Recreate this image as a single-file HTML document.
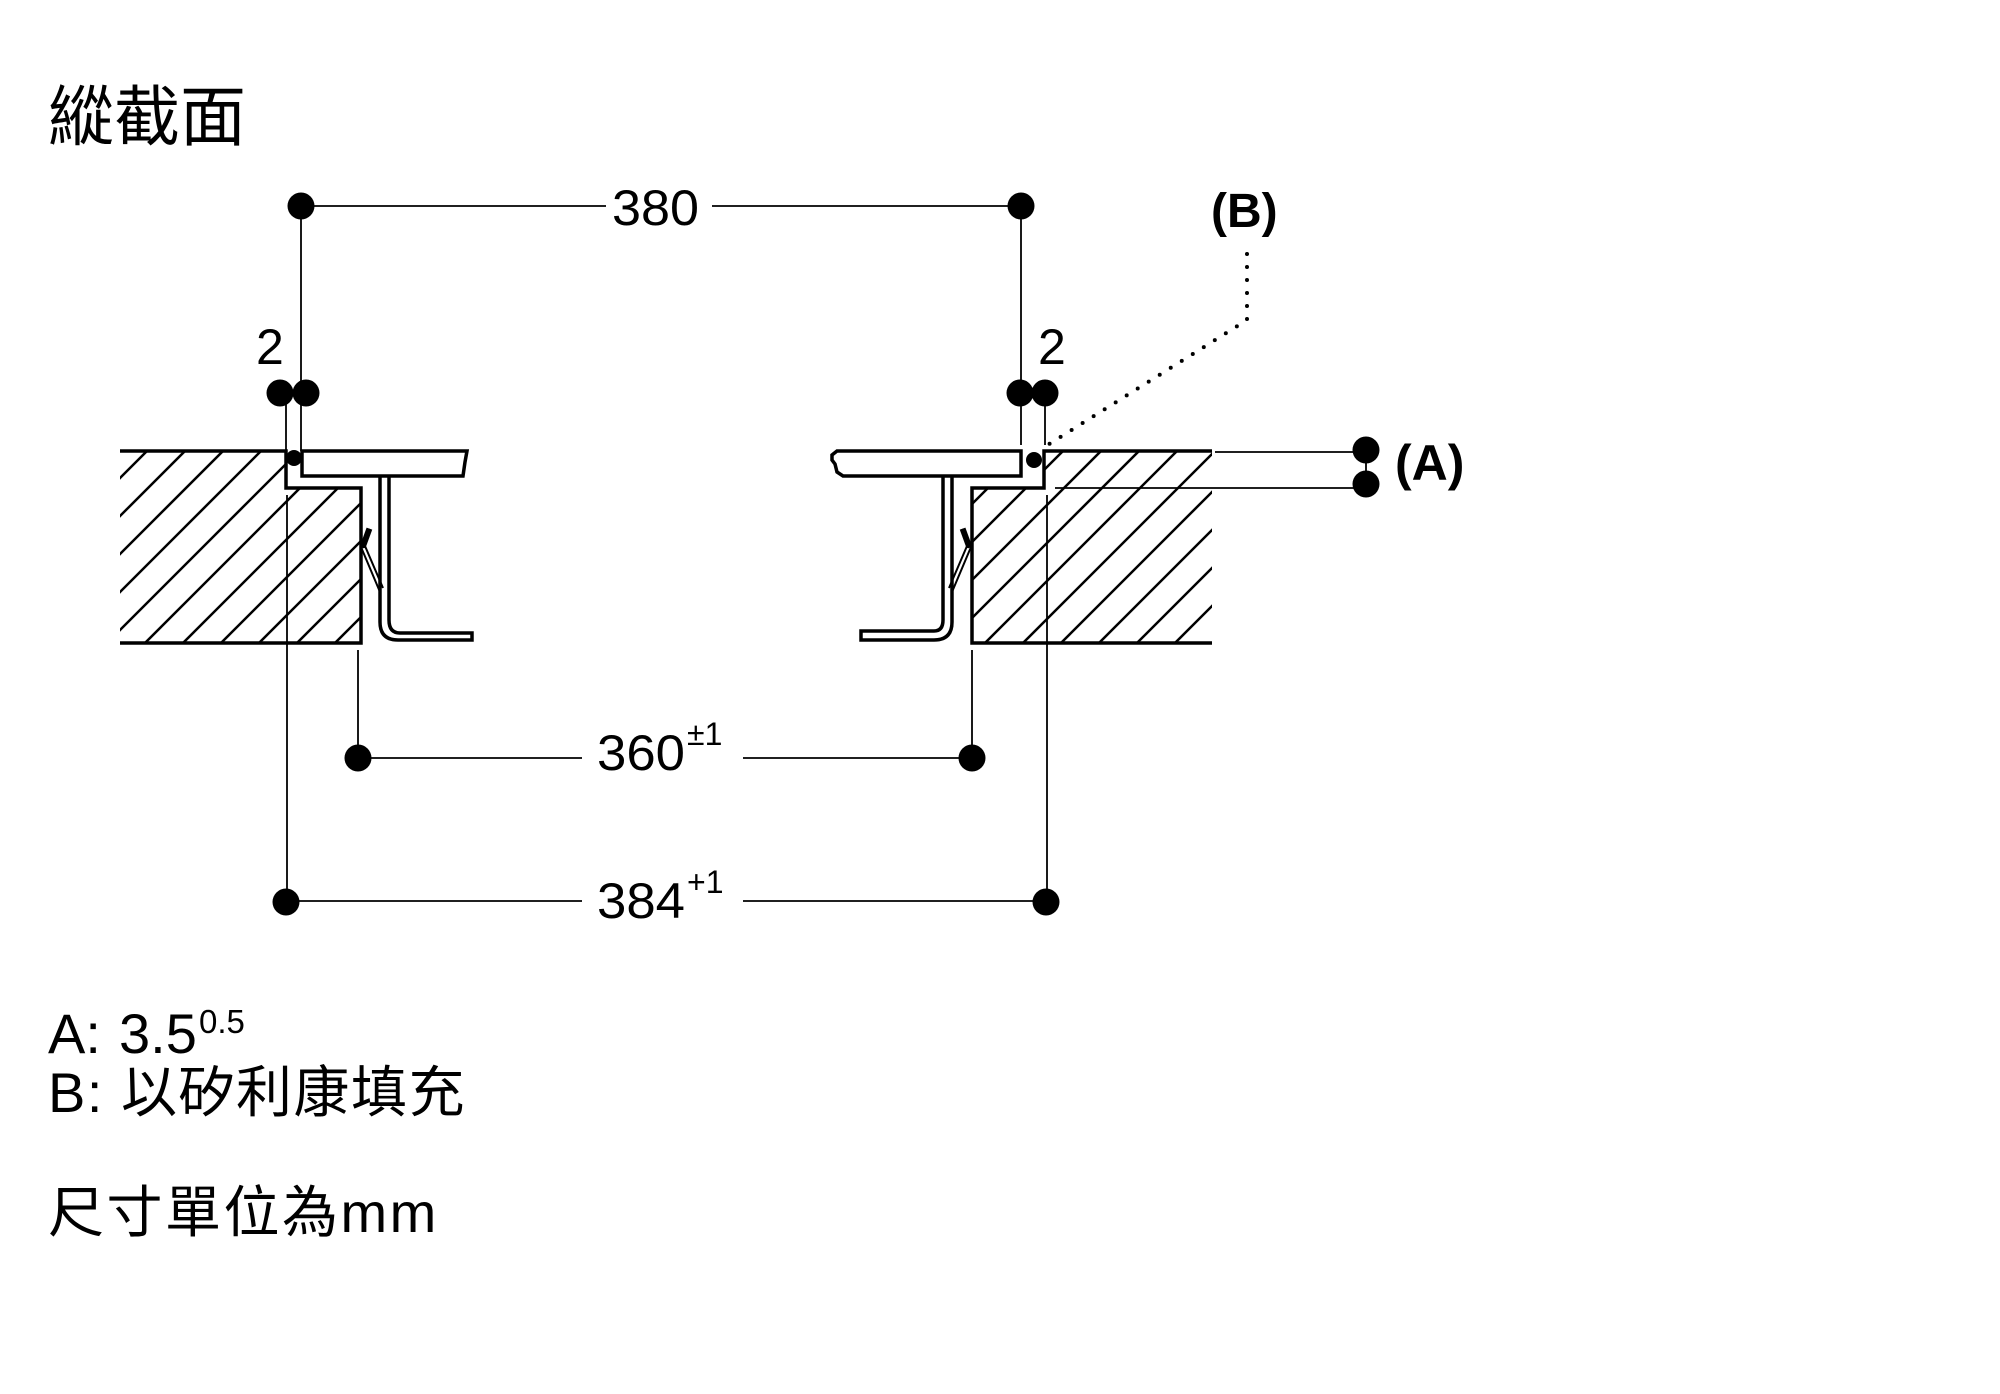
<!DOCTYPE html>
<html><head><meta charset="utf-8">
<style>
html,body{margin:0;padding:0;background:#fff;}
svg{display:block;}
text{font-family:"Liberation Sans","Noto Sans CJK TC",sans-serif;fill:#000;}
</style></head><body>
<svg width="2000" height="1394" viewBox="0 0 2000 1394" xmlns="http://www.w3.org/2000/svg">
<defs>
<clipPath id="cl"><polygon points="120,451 286,451 286,488 361,488 361,643 120,643"/></clipPath>
<clipPath id="cr"><polygon points="1044,451 1212,451 1212,643 972,643 972,488 1044,488"/></clipPath>
</defs>

<text x="48" y="140" font-size="66">縱截面</text>

<g stroke="#000" stroke-width="2.5" clip-path="url(#cl)">
<line x1="-100" y1="660" x2="140" y2="420"/>
<line x1="-62" y1="660" x2="178" y2="420"/>
<line x1="-24" y1="660" x2="216" y2="420"/>
<line x1="14" y1="660" x2="254" y2="420"/>
<line x1="52" y1="660" x2="292" y2="420"/>
<line x1="90" y1="660" x2="330" y2="420"/>
<line x1="128" y1="660" x2="368" y2="420"/>
<line x1="166" y1="660" x2="406" y2="420"/>
<line x1="204" y1="660" x2="444" y2="420"/>
<line x1="242" y1="660" x2="482" y2="420"/>
<line x1="280" y1="660" x2="520" y2="420"/>
<line x1="318" y1="660" x2="558" y2="420"/>
<line x1="356" y1="660" x2="596" y2="420"/>
</g>
<g stroke="#000" stroke-width="2.5" clip-path="url(#cr)">
<line x1="740" y1="660" x2="980" y2="420"/>
<line x1="778" y1="660" x2="1018" y2="420"/>
<line x1="816" y1="660" x2="1056" y2="420"/>
<line x1="854" y1="660" x2="1094" y2="420"/>
<line x1="892" y1="660" x2="1132" y2="420"/>
<line x1="930" y1="660" x2="1170" y2="420"/>
<line x1="968" y1="660" x2="1208" y2="420"/>
<line x1="1006" y1="660" x2="1246" y2="420"/>
<line x1="1044" y1="660" x2="1284" y2="420"/>
<line x1="1082" y1="660" x2="1322" y2="420"/>
<line x1="1120" y1="660" x2="1360" y2="420"/>
<line x1="1158" y1="660" x2="1398" y2="420"/>
<line x1="1196" y1="660" x2="1436" y2="420"/>
</g>
<g fill="none" stroke="#000" stroke-width="3.5">
<polyline points="120,451 286,451 286,488 361,488 361,643 120,643"/>
<polyline points="1212,451 1044,451 1044,488 972,488 972,643 1212,643"/>
<path d="M302,451 L467,451 L465,462 L463,476 L302,476 Z"/>
<path d="M380,476 L380,622 Q380,640 398,640 L472,640 L472,633 L400,633 Q389,633 389,620 L389,476"/>
<path d="M1021,451 L837,451 L832,455 L832,460 L835,464 L837,472 L843,476 L1021,476 Z"/>
<path d="M952,476 L952,622 Q952,640 934,640 L861,640 L861,631 L934,631 Q943,631 943,620 L943,476"/>
</g>
<g fill="none" stroke="#000" stroke-width="2">
<path d="M370,529 L363,548 M361,547 L380,592 M365,546 L383,588"/>
<path d="M962,529 L969,548 M971,547 L952,592 M967,546 L949,588"/>
</g>
<rect x="363" y="528" width="6" height="20" transform="rotate(20 366 538)" fill="#000"/>
<rect x="963" y="528" width="6" height="20" transform="rotate(-20 966 538)" fill="#000"/>
<circle cx="294" cy="458" r="8"/>
<circle cx="1034" cy="460" r="8"/>

<g stroke="#000" stroke-width="1.8" fill="none">
<line x1="301" y1="206" x2="606" y2="206"/>
<line x1="712" y1="206" x2="1021" y2="206"/>
<line x1="301" y1="206" x2="301" y2="451"/>
<line x1="1021" y1="206" x2="1021" y2="445"/>
<line x1="286" y1="393" x2="286" y2="451"/>
<line x1="1045" y1="393" x2="1045" y2="445"/>
<line x1="287" y1="495" x2="287" y2="902"/>
<line x1="1047" y1="495" x2="1047" y2="902"/>
<line x1="358" y1="650" x2="358" y2="758"/>
<line x1="972" y1="650" x2="972" y2="758"/>
<line x1="358" y1="758" x2="582" y2="758"/>
<line x1="743" y1="758" x2="972" y2="758"/>
<line x1="287" y1="901" x2="582" y2="901"/>
<line x1="743" y1="901" x2="1047" y2="901"/>
<line x1="1215" y1="452" x2="1366" y2="452"/>
<line x1="1055" y1="488" x2="1366" y2="488"/>
<line x1="1366" y1="452" x2="1366" y2="485"/>
</g>
<path d="M1247,254 L1247,320 L1046,446" fill="none" stroke="#000" stroke-width="4" stroke-linecap="round" stroke-dasharray="0 13"/>

<g fill="#000">
<circle cx="301" cy="206" r="13.5"/><circle cx="1021" cy="206" r="13.5"/>
<circle cx="280" cy="393" r="13.5"/><circle cx="306" cy="393" r="13.5"/>
<circle cx="1020" cy="393" r="13.5"/><circle cx="1045" cy="393" r="13.5"/>
<circle cx="358" cy="758" r="13.5"/><circle cx="972" cy="758" r="13.5"/>
<circle cx="286" cy="902" r="13.5"/><circle cx="1046" cy="902" r="13.5"/>
<circle cx="1366" cy="450" r="13.5"/><circle cx="1366" cy="484" r="13.5"/>
</g>

<text x="612" y="225" font-size="50" textLength="87" lengthAdjust="spacingAndGlyphs">380</text>
<text x="256" y="364" font-size="50">2</text>
<text x="1038" y="364" font-size="50">2</text>
<text x="597" y="770" font-size="50" textLength="88" lengthAdjust="spacingAndGlyphs">360</text>
<text x="687" y="745" font-size="32">±1</text>
<text x="597" y="918" font-size="50" textLength="88" lengthAdjust="spacingAndGlyphs">384</text>
<text x="687" y="893" font-size="32">+1</text>
<text x="1211" y="227" font-size="48" font-weight="bold">(B)</text>
<text x="1395" y="480" font-size="50" font-weight="bold">(A)</text>

<text x="48" y="1053" font-size="56">A:</text>
<text x="119" y="1053" font-size="56">3.5</text>
<text x="199" y="1033" font-size="33">0.5</text>
<text x="48" y="1112" font-size="56" letter-spacing="1.5">B: 以矽利康填充</text>
<text x="48" y="1232" font-size="56" letter-spacing="2.5">尺寸單位為mm</text>
</svg>
</body></html>
